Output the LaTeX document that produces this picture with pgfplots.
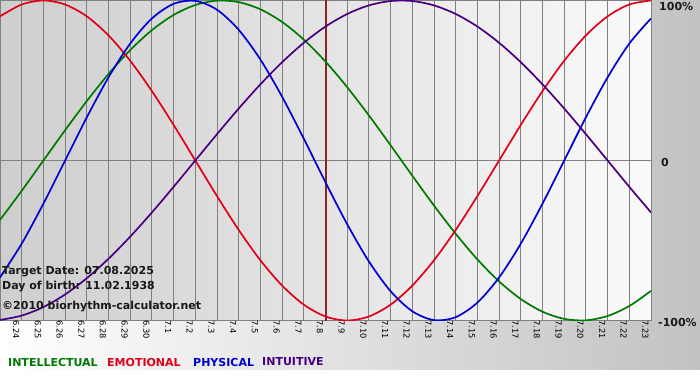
\documentclass[border=0pt]{standalone}
\usepackage{pgfplots}
\usepackage{pgfplotstable}
\pgfplotsset{compat=1.18}
\usepackage{fontspec}
\setmainfont{DejaVu Sans}

\definecolor{cint}{RGB}{0,122,0}
\definecolor{cemo}{RGB}{225,0,25}
\definecolor{cphy}{RGB}{0,0,210}
\definecolor{cintu}{RGB}{72,0,128}
\definecolor{ctgt}{RGB}{140,35,35}
\definecolor{cgrid}{RGB}{128,128,128}
\definecolor{ctxt}{RGB}{25,25,25}

\pgfplotstableread{
d P E I U
0 -0.7308 0.9010 -0.3717 -0.9966
1 -0.5197 0.9749 -0.1893 -0.9694
2 -0.2698 1.0000 0.0000 -0.9158
3 0.0000 0.9749 0.1893 -0.8372
4 0.2698 0.9010 0.3717 -0.7357
5 0.5197 0.7818 0.5406 -0.6142
6 0.7308 0.6235 0.6901 -0.4759
7 0.8879 0.4339 0.8146 -0.3247
8 0.9791 0.2225 0.9096 -0.1646
9 0.9977 0.0000 0.9718 0.0000
10 0.9423 -0.2225 0.9989 0.1646
11 0.8170 -0.4339 0.9898 0.3247
12 0.6311 -0.6235 0.9450 0.4759
13 0.3984 -0.7818 0.8660 0.6142
14 0.1362 -0.9010 0.7557 0.7357
15 -0.1362 -0.9749 0.6182 0.8372
16 -0.3984 -1.0000 0.4582 0.9158
17 -0.6311 -0.9749 0.2817 0.9694
18 -0.8170 -0.9010 0.0951 0.9966
19 -0.9423 -0.7818 -0.0951 0.9966
20 -0.9977 -0.6235 -0.2817 0.9694
21 -0.9791 -0.4339 -0.4582 0.9158
22 -0.8879 -0.2225 -0.6182 0.8372
23 -0.7308 0.0000 -0.7557 0.7357
24 -0.5197 0.2225 -0.8660 0.6142
25 -0.2698 0.4339 -0.9450 0.4759
26 0.0000 0.6235 -0.9898 0.3247
27 0.2698 0.7818 -0.9989 0.1646
28 0.5197 0.9010 -0.9718 0.0000
29 0.7308 0.9749 -0.9096 -0.1646
30 0.8879 1.0000 -0.8146 -0.3247
}\biodata

\begin{document}
\begin{tikzpicture}[x=1pt,y=1pt]
\shade[left color=white, right color=black!24] (0,10) rectangle (700,380);
\fill[white] (0,0) rectangle (700,10);
\begin{axis}[
  at={(0pt,379.5pt)}, anchor=north west,
  scale only axis, width=651pt, height=320pt,
  xmin=0, xmax=30, ymin=-1, ymax=1,
  axis background/.style={left color=black!19, right color=black!2},
  axis line style={draw=cgrid, line width=1pt},
  xtick={0,...,30},
  xticklabels={6.23,6.24,6.25,6.26,6.27,6.28,6.29,6.30,7.1,7.2,7.3,7.4,7.5,7.6,7.7,7.8,7.9,7.10,7.11,7.12,7.13,7.14,7.15,7.16,7.17,7.18,7.19,7.20,7.21,7.22,7.23},
  xticklabel style={rotate=-90, anchor=west, font=\fontsize{8.3}{9}\selectfont, text=black, inner sep=0pt, yshift=-5.5pt},
  ytick={-1,0,1}, yticklabels={},
  major tick length=0pt,
  xmajorgrids, ymajorgrids,
  grid style={draw=cgrid, line width=1pt},
  clip=true,
]
\addplot[ctgt, line width=2pt] coordinates {(15,-1) (15,1)};
\addplot[cint, line width=1.7pt, smooth] table[x=d, y=I] {\biodata};
\addplot[cemo, line width=1.7pt, smooth] table[x=d, y=E] {\biodata};
\addplot[cphy, line width=1.7pt, smooth] table[x=d, y=P] {\biodata};
\addplot[cintu, line width=1.7pt, smooth] table[x=d, y=U] {\biodata};
\end{axis}
\begin{scope}[every node/.style={inner sep=0pt, anchor=west, text=ctxt, font=\bfseries\fontsize{11}{13}\selectfont}]
\node at (659,373) {100\%};
\node at (661,218) {0};
\node at (658,58) {-100\%};
\node at (2,108) {Target Date: 07.08.2025};
\node at (2,93) {Day of birth: 11.02.1938};
\node at (2,73) {©2010 biorhythm-calculator.net};
\node[text=cint] at (8,18) {INTELLECTUAL};
\node[text=cemo] at (107,18) {EMOTIONAL};
\node[text=cphy] at (193,18) {PHYSICAL};
\node[text=cintu] at (262,18) {INTUITIVE};
\end{scope}
\pgfresetboundingbox
\useasboundingbox (0,0) rectangle (700,380);
\end{tikzpicture}
\end{document}
